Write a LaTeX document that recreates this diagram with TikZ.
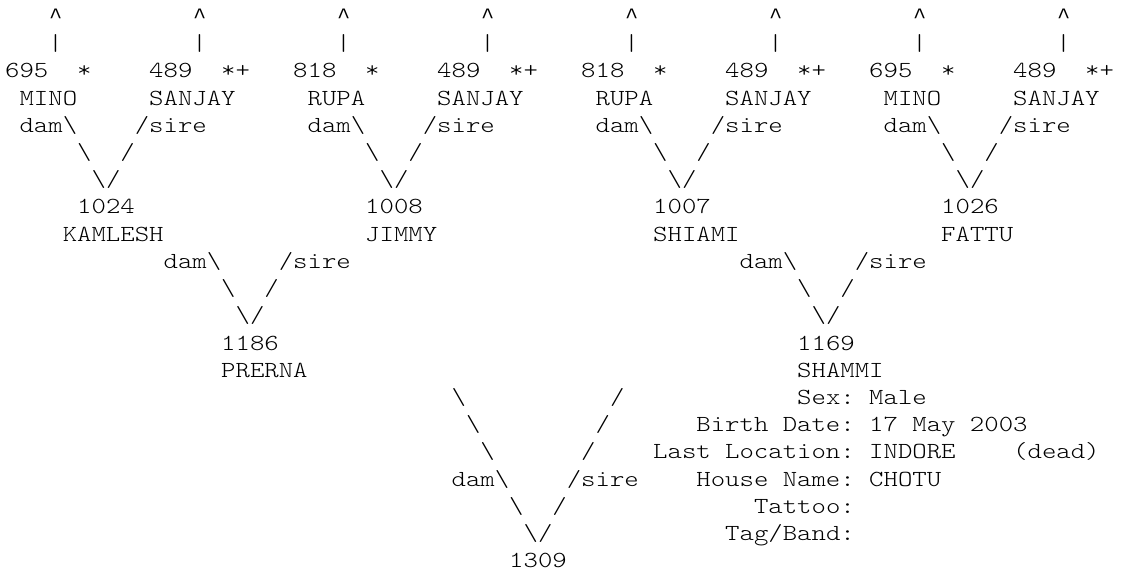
\documentclass[tikz,border=0pt]{standalone}
\usepackage{fontspec}
\newfontfamily\asciimono{lmmonolt10-regular.otf}[FakeStretch=1.1925]
\newfontfamily\caretfont{Liberation Mono}
\newcommand\T[3]{\node[asc] (r#1c#2) at ({5+#2*14.4},{-23.6-#1*27.2}) {#3};}
\newcommand\bs{\textbackslash}
\begin{document}
\begin{tikzpicture}[x=1pt,y=1pt,
  asc/.style={anchor=base west, inner sep=0pt, text=black,
    font=\asciimono\fontsize{23}{27.2}\selectfont},
  caret/.style={anchor=base west, inner sep=0pt, text=black,
    font=\caretfont\fontsize{22}{27.2}\selectfont}]
\fill[white] (0,0) rectangle (1121,-585);
\useasboundingbox (0,0) rectangle (1121,-585);
% row 0 and 1
\foreach \c in {3,13,23,33,43,53,63,73}{
  \node[caret] (up\c) at ({5+\c*14.4+0.6},{-23.6}) {\textasciicircum};
  \node[asc] (bar\c) at ({5+\c*14.4},{-23.6-27.2}) {\textbar};
}
% row 2
\T{2}{0}{695}\T{2}{5}{*}
\T{2}{10}{489}\T{2}{15}{*+}
\T{2}{20}{818}\T{2}{25}{*}
\T{2}{30}{489}\T{2}{35}{*+}
\T{2}{40}{818}\T{2}{45}{*}
\T{2}{50}{489}\T{2}{55}{*+}
\T{2}{60}{695}\T{2}{65}{*}
\T{2}{70}{489}\T{2}{75}{*+}
% row 3
\T{3}{1}{MINO}\T{3}{10}{SANJAY}
\T{3}{21}{RUPA}\T{3}{30}{SANJAY}
\T{3}{41}{RUPA}\T{3}{50}{SANJAY}
\T{3}{61}{MINO}\T{3}{70}{SANJAY}
% row 4
\T{4}{1}{dam\bs}\T{4}{9}{/sire}
\T{4}{21}{dam\bs}\T{4}{29}{/sire}
\T{4}{41}{dam\bs}\T{4}{49}{/sire}
\T{4}{61}{dam\bs}\T{4}{69}{/sire}
% row 5
\T{5}{5}{\bs}\T{5}{8}{/}
\T{5}{25}{\bs}\T{5}{28}{/}
\T{5}{45}{\bs}\T{5}{48}{/}
\T{5}{65}{\bs}\T{5}{68}{/}
% row 6
\T{6}{6}{\bs/}\T{6}{26}{\bs/}\T{6}{46}{\bs/}\T{6}{66}{\bs/}
% row 7
\T{7}{5}{1024}\T{7}{25}{1008}\T{7}{45}{1007}\T{7}{65}{1026}
% row 8
\T{8}{4}{KAMLESH}\T{8}{25}{JIMMY}\T{8}{45}{SHIAMI}\T{8}{65}{FATTU}
% row 9
\T{9}{11}{dam\bs}\T{9}{19}{/sire}
\T{9}{51}{dam\bs}\T{9}{59}{/sire}
% row 10
\T{10}{15}{\bs}\T{10}{18}{/}
\T{10}{55}{\bs}\T{10}{58}{/}
% row 11
\T{11}{16}{\bs/}\T{11}{56}{\bs/}
% row 12-13
\T{12}{15}{1186}\T{12}{55}{1169}
\T{13}{15}{PRERNA}\T{13}{55}{SHAMMI}
% row 14-20
\T{14}{31}{\bs}\T{14}{42}{/}\T{14}{55}{Sex:}\T{14}{60}{Male}
\T{15}{32}{\bs}\T{15}{41}{/}\T{15}{48}{Birth Date:}\T{15}{60}{17 May 2003}
\T{16}{33}{\bs}\T{16}{40}{/}\T{16}{45}{Last Location:}\T{16}{60}{INDORE}\T{16}{70}{(dead)}
\T{17}{31}{dam\bs}\T{17}{39}{/sire}\T{17}{48}{House Name:}\T{17}{60}{CHOTU}
\T{18}{35}{\bs}\T{18}{38}{/}\T{18}{52}{Tattoo:}
\T{19}{36}{\bs/}\T{19}{50}{Tag/Band:}
\T{20}{35}{1309}
\end{tikzpicture}
\end{document}
